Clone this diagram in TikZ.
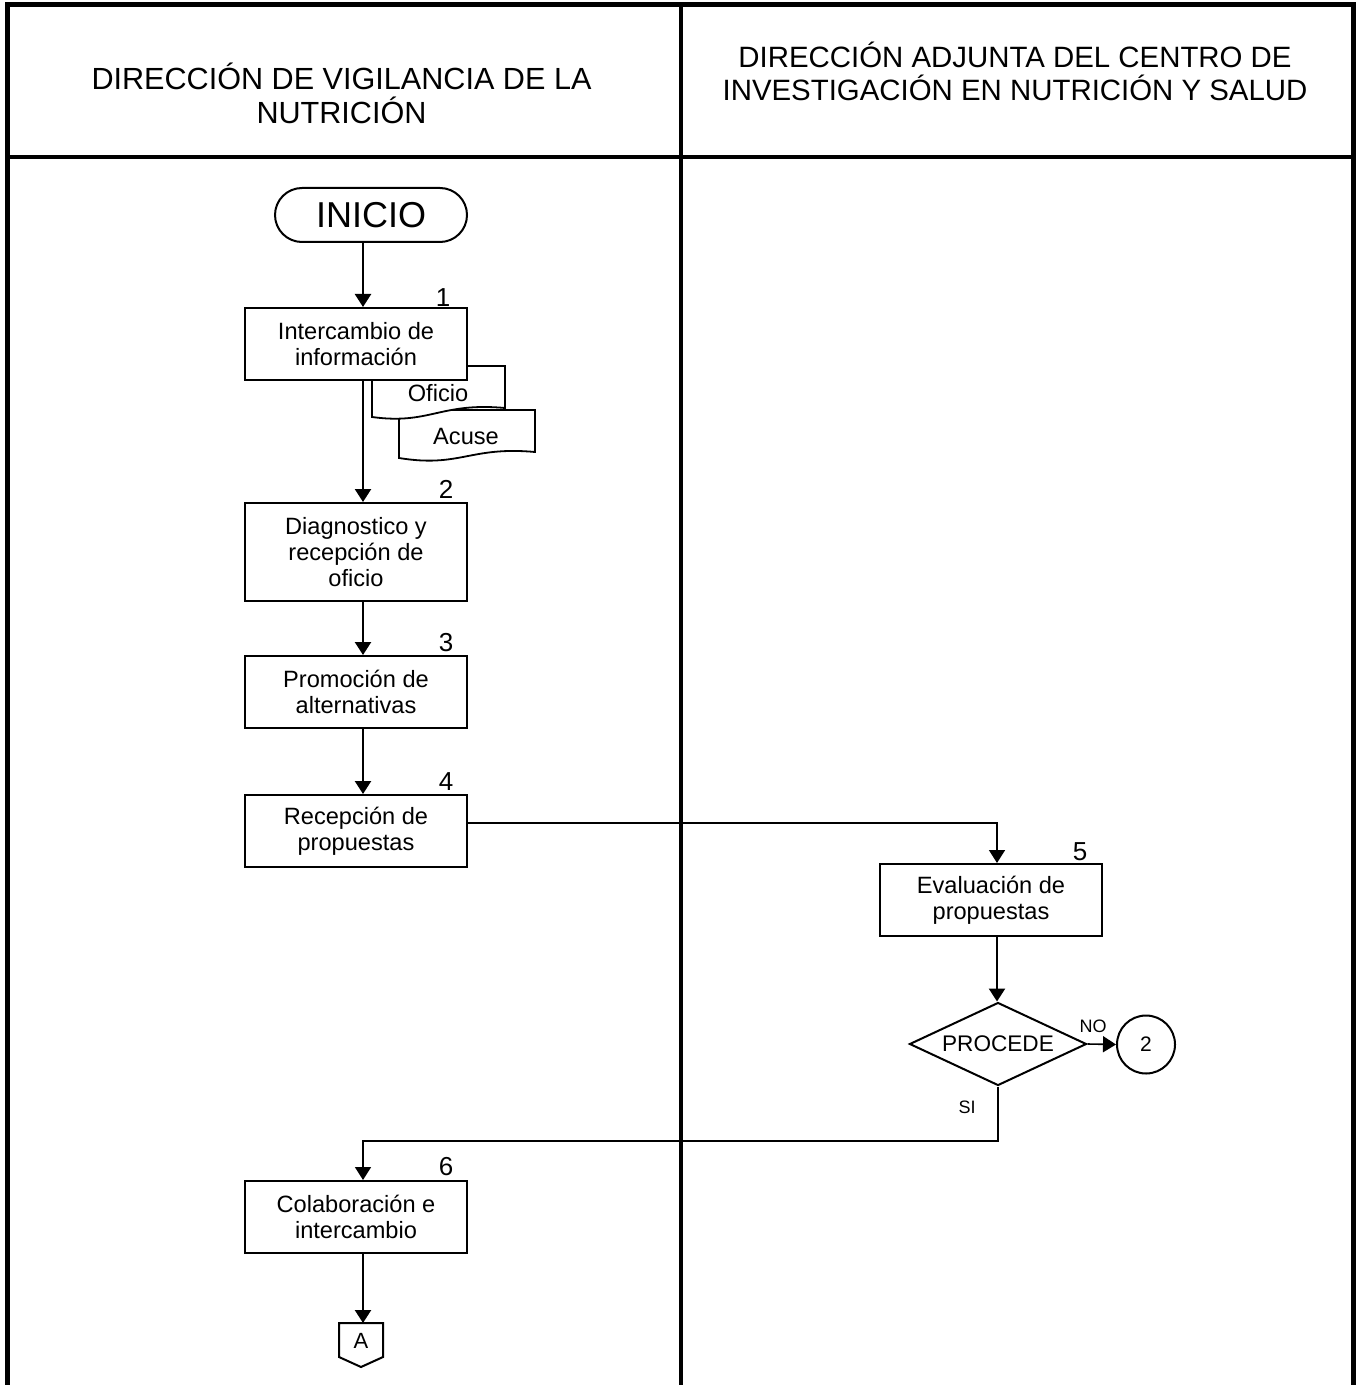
\documentclass[tikz,border=0pt]{standalone}
\usepackage{fontspec}
\setmainfont{Liberation Sans}
\usetikzlibrary{arrows.meta,shapes.geometric}
\begin{document}
\begin{tikzpicture}[x=0.5pt,y=-0.5pt,
  box/.style={draw,line width=1pt,fill=white,minimum width=111pt,minimum height=36pt,inner sep=0pt,align=center,font=\fontsize{11.8}{13}\selectfont},
  arr/.style={line width=1.2pt,-{Triangle[length=6.5pt,width=8pt]}},
  thinarr/.style={line width=0.8pt,-{Triangle[length=6.5pt,width=8pt]}},
  num/.style={font=\fontsize{13}{15}\selectfont,inner sep=0pt},
  doc/.style={draw,line width=0.9pt,fill=white},
  doctext/.style={font=\fontsize{11.8}{13}\selectfont,inner sep=0pt},
  small/.style={font=\fontsize{9}{10}\selectfont,inner sep=0pt},
  frame/.style={line width=2.5pt,line join=miter}]
\useasboundingbox (0,0) rectangle (1357,1385);
% frame
\draw[frame] (7,1385) -- (7,5) -- (1353,5) -- (1353,1385);
\draw[line width=2pt] (7,157) -- (1353,157);
\draw[line width=2pt] (680.5,5) -- (680.5,1385);
% headers
\node[align=center,font=\fontsize{15.3}{17}\selectfont] (h1) at (341.5,93) {DIRECCIÓN DE VIGILANCIA DE LA\\NUTRICIÓN};
\node[align=center,font=\fontsize{14.7}{16.5}\selectfont] (h2) at (1015,71.5) {DIRECCIÓN ADJUNTA DEL CENTRO DE\\INVESTIGACIÓN EN NUTRICIÓN Y SALUD};
% documents (behind box 1)
\draw[doc] (399,410) -- (535,410) -- (535,452) .. controls (470,446) and (460,468) .. (399,458) -- cycle;
\node[doctext] (acuse) at (466,436) {Acuse};
\draw[doc] (372,366) -- (505,366) -- (505,408) .. controls (440,402) and (430,425) .. (372,417) -- cycle;
\node[doctext] (oficio) at (438,393) {Oficio};
% nodes
\coordinate (col) at (363,0);
\node[draw,line width=1pt,rounded corners=13.5pt,minimum width=96pt,minimum height=27pt,inner sep=0pt,font=\fontsize{18}{20}\selectfont] (inicio) at (371,215) {INICIO};
\node[box] (b1) at (356,344) {Intercambio de\\información};
\node[box,minimum height=49pt] (b2) at (356,552) {Diagnostico y\\recepción de\\oficio};
\node[box] (b3) at (356,692) {Promoción de\\alternativas};
\node[box] (b4) at (356,831) {Recepción de\\propuestas};
\node[box] (b5) at (991,900) {Evaluación de\\propuestas};
\node[draw,line width=1pt,shape=diamond,shape aspect=2.13,minimum width=88.5pt,minimum height=41.5pt,inner sep=0pt,font=\fontsize{11.3}{13}\selectfont] (dia) at (998,1044) {PROCEDE};
\node[draw,line width=1pt,circle,minimum size=29pt,inner sep=0pt,font=\fontsize{10.5}{12}\selectfont] (circ) at (1146,1044.5) {2};
\node[box] (b6) at (356,1217) {Colaboración e\\intercambio};
\node[inner sep=0pt,font=\fontsize{11}{12}\selectfont] (conA) at (361,1341) {A};
\draw[line width=1pt] (339,1323) -- (383,1323) -- (383,1357) -- (361,1367) -- (339,1357) -- cycle;
\coordinate (atop) at (363,1323);
% numbers
\node[num] (n1) at (443,298) {1};
\node[num] (n2) at (446,489) {2};
\node[num] (n3) at (446,643) {3};
\node[num] (n4) at (446,782) {4};
\node[num] (n5) at (1080,852) {5};
\node[num] (n6) at (446,1167) {6};
\node[small] (no) at (1093,1026) {NO};
\node[small] (si) at (967,1107) {SI};
% connectors
\draw[arr] (inicio.south -| col) -- (b1.north -| col);
\draw[arr] (b1.south -| col) -- (b2.north -| col);
\draw[arr] (b2.south -| col) -- (b3.north -| col);
\draw[arr] (b3.south -| col) -- (b4.north -| col);
\coordinate (j45) at (997,823);
\draw[thinarr] (b4.east |- j45) -- (j45) -- (b5.north -| j45);
\draw[arr] (b5.south -| j45) -- (dia.north -| j45);
\draw[thinarr] (dia.east) -- (circ.west);
\coordinate (j6) at (363,1141);
\draw[thinarr] (dia.south) |- (j6) -- (b6.north -| j6);
\draw[arr] (b6.south -| col) -- (atop);
\end{tikzpicture}
\end{document}
